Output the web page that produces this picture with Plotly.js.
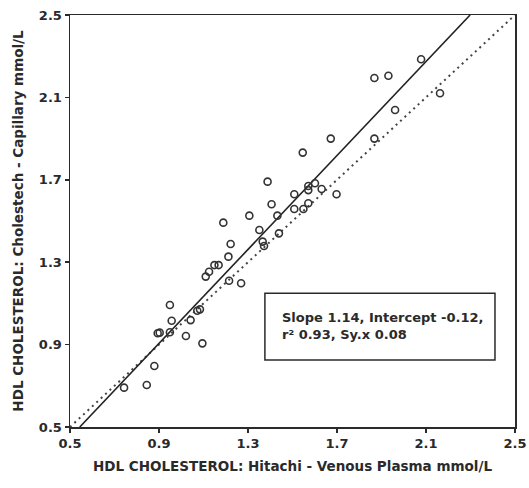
<!DOCTYPE html>
<html>
<head>
<meta charset="utf-8">
<script src="https://cdn.plot.ly/plotly-3.0.1.min.js"></script>
<style>
html,body{margin:0;padding:0;background:#fff;}
#chart{width:529px;height:488px;}
</style>
</head>
<body>
<div id="chart"></div>
<script>
// Hitachi venous plasma HDL (x) vs Cholestech capillary HDL (y), mmol/L
const venousHDL = [
  2.078, 1.868, 1.931, 2.163, 1.961, 1.868, 1.672,
  1.546, 1.388, 1.601, 1.571, 1.571, 1.631, 1.508, 1.698,
  1.406, 1.571, 1.508, 1.549, 1.306, 1.432, 1.189, 1.351,
  1.439, 1.366, 1.372, 1.222, 1.212, 1.149, 1.168, 1.125,
  1.110, 1.215, 1.269,
  0.949, 0.957, 1.042, 1.084, 1.072, 0.894, 0.903, 0.949,
  1.021, 1.095, 0.879, 0.845, 0.743
];
const capillaryHDL = [
  2.285, 2.194, 2.205, 2.120, 2.039, 1.900, 1.900,
  1.832, 1.691, 1.683, 1.670, 1.650, 1.655, 1.630, 1.630,
  1.581, 1.586, 1.558, 1.558, 1.526, 1.526, 1.492, 1.456,
  1.440, 1.400, 1.379, 1.388, 1.327, 1.286, 1.286, 1.254,
  1.230, 1.210, 1.198,
  1.092, 1.016, 1.019, 1.071, 1.064, 0.955, 0.958, 0.960,
  0.942, 0.906, 0.796, 0.704, 0.691
];
const fitSlope = 1.14;
const fitIntercept = -0.12;
const axisMin = 0.5;
const axisMax = 2.5;
const tickValues = [0.5, 0.9, 1.3, 1.7, 2.1, 2.5];
const tickLabels = ["0.5", "0.9", "1.3", "1.7", "2.1", "2.5"];
const statsLines = ["Slope 1.14, Intercept -0.12,", "r\u00B2 0.93, Sy.x 0.08"];

const fitX0 = (axisMin - fitIntercept) / fitSlope;
const fitX1 = (axisMax - fitIntercept) / fitSlope;

const font = "DejaVu Sans, Verdana, sans-serif";
const ink = "#2a2a2a";

const traces = [
  {
    x: [axisMin, axisMax], y: [axisMin, axisMax],
    mode: "lines", type: "scatter",
    line: {color: "#444", width: 2, dash: "2px,4px"},
    hoverinfo: "skip", showlegend: false
  },
  {
    x: [fitX0, fitX1], y: [fitSlope * fitX0 + fitIntercept, fitSlope * fitX1 + fitIntercept],
    mode: "lines", type: "scatter",
    line: {color: "#222", width: 1.6},
    hoverinfo: "skip", showlegend: false
  },
  {
    x: venousHDL, y: capillaryHDL,
    mode: "markers", type: "scatter",
    marker: {symbol: "circle-open", size: 7, color: "#333", line: {width: 1.6, color: "#333"}},
    showlegend: false
  }
];

const axisCommon = {
  range: [axisMin, axisMax],
  tickvals: tickValues,
  ticktext: tickLabels,
  ticks: "outside",
  ticklen: 4,
  tickwidth: 1.5,
  tickcolor: ink,
  showline: true,
  linecolor: ink,
  linewidth: 1.5,
  mirror: true,
  showgrid: false,
  zeroline: false,
  tickfont: {family: font, size: 13, color: ink, weight: "bold"}
};

const layout = {
  width: 529, height: 488,
  margin: {l: 70, r: 14, t: 15, b: 61},
  paper_bgcolor: "#fff",
  plot_bgcolor: "#fff",
  xaxis: Object.assign({}, axisCommon, {
    title: {text: "HDL CHOLESTEROL: Hitachi - Venous Plasma mmol/L",
            font: {family: font, size: 13.5, color: ink, weight: "bold"}, standoff: 11}
  }),
  yaxis: Object.assign({}, axisCommon, {
    title: {text: "HDL CHOLESTEROL: Cholestech - Capillary mmol/L",
            font: {family: font, size: 13.5, color: ink, weight: "bold"}, standoff: 12}
  }),
  shapes: [{
    type: "rect", xref: "x", yref: "y",
    x0: 1.376, x1: 2.41, y0: 0.825, y1: 1.149,
    line: {color: ink, width: 1.5}, fillcolor: "rgba(0,0,0,0)"
  }],
  annotations: [{
    xref: "x", yref: "y", x: 1.445, y: 0.99,
    xanchor: "left", yanchor: "middle", align: "left",
    text: statsLines.join("<br>"),
    showarrow: false,
    font: {family: font, size: 13, color: ink, weight: "bold"}
  }]
};

Plotly.newPlot("chart", traces, layout, {displayModeBar: false, staticPlot: true});
</script>
</body>
</html>
